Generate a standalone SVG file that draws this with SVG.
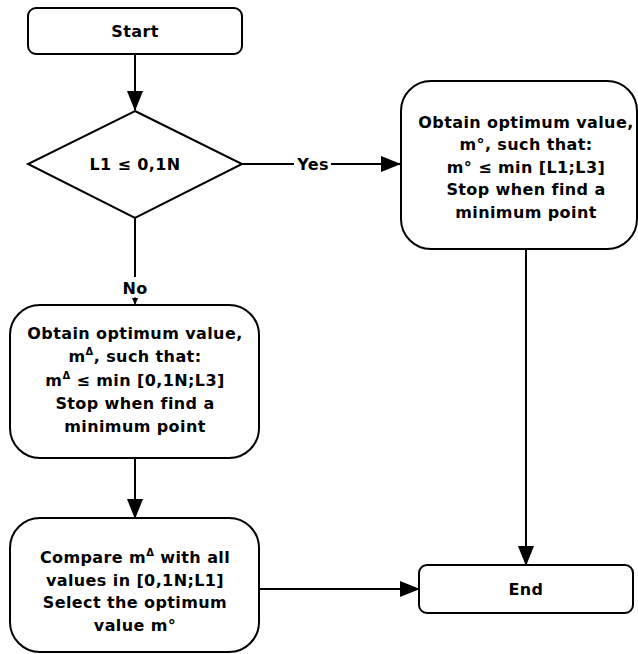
<svg xmlns="http://www.w3.org/2000/svg" width="638" height="654" viewBox="0 0 638 654">
<style>
.box{fill:#fff;stroke:#000;stroke-width:2}
.t{font-family:"DejaVu Sans",Verdana,sans-serif;font-weight:bold;font-size:16px;letter-spacing:0.4px;fill:#000;text-anchor:middle}
.c{fill:none;stroke:#000;stroke-width:2}
.sup{font-size:10px}
</style>
<defs>
<marker id="ah" markerWidth="20" markerHeight="16" refX="19" refY="8" orient="auto" markerUnits="userSpaceOnUse">
<path d="M0,0 L20,8 L0,16 Z" fill="#000"/>
</marker>
<marker id="sm" markerWidth="7" markerHeight="6" refX="6" refY="3" orient="auto" markerUnits="userSpaceOnUse">
<path d="M0,0 L7,3 L0,6 Z" fill="#000"/>
</marker>
</defs>
<rect width="638" height="654" fill="#fff"/>
<g id="connectors">
<line class="c" x1="135" y1="54" x2="135" y2="110" marker-end="url(#ah)"/>
<line class="c" x1="242" y1="164" x2="294" y2="164"/>
<line class="c" x1="331" y1="164" x2="400" y2="164" marker-end="url(#ah)"/>
<line class="c" x1="135" y1="218" x2="135" y2="277"/>
<line x1="135" y1="297" x2="135" y2="304" stroke="#000" stroke-width="1" marker-end="url(#sm)"/>
<line class="c" x1="135" y1="458" x2="135" y2="518" marker-end="url(#ah)"/>
<line class="c" x1="526" y1="249" x2="526" y2="565" marker-end="url(#ah)"/>
<line class="c" x1="259" y1="589" x2="419" y2="589" marker-end="url(#ah)"/>
<text class="t" x="313" y="170">Yes</text>
<text class="t" x="135" y="294">No</text>
</g>
<g id="start">
<rect class="box" x="28" y="8" width="214" height="46" rx="8"/>
<text class="t" x="135" y="37">Start</text>
</g>
<g id="decision">
<polygon class="box" points="135,111 242,164 135,218 28,164"/>
<text class="t" x="135" y="170">L1 ≤ 0,1N</text>
</g>
<g id="yesbox">
<rect class="box" x="401" y="81" width="236" height="168" rx="30"/>
<text class="t" x="526" y="128">Obtain optimum value,</text>
<text class="t" x="526" y="150">m°, such that:</text>
<text class="t" x="526" y="173">m° ≤ min [L1;L3]</text>
<text class="t" x="526" y="195">Stop when find a</text>
<text class="t" x="526" y="218">minimum point</text>
</g>
<g id="nobox">
<rect class="box" x="10" y="305" width="249" height="153" rx="30"/>
<text class="t" x="135" y="339">Obtain optimum value,</text>
<text class="t" x="135" y="362">m<tspan class="sup" dy="-7">Δ</tspan><tspan dy="7">, such that:</tspan></text>
<text class="t" x="135" y="386">m<tspan class="sup" dy="-7">Δ</tspan><tspan dy="7"> ≤ min [0,1N;L3]</tspan></text>
<text class="t" x="135" y="409">Stop when find a</text>
<text class="t" x="135" y="432">minimum point</text>
</g>
<g id="compare">
<rect class="box" x="10" y="518" width="249" height="134" rx="30"/>
<text class="t" x="135" y="563">Compare m<tspan class="sup" dy="-7">Δ</tspan><tspan dy="7"> with all</tspan></text>
<text class="t" x="135" y="586">values in [0,1N;L1]</text>
<text class="t" x="135" y="608">Select the optimum</text>
<text class="t" x="135" y="631">value m°</text>
</g>
<g id="end">
<rect class="box" x="419" y="565" width="214" height="48" rx="8"/>
<text class="t" x="526" y="595">End</text>
</g>
</svg>
